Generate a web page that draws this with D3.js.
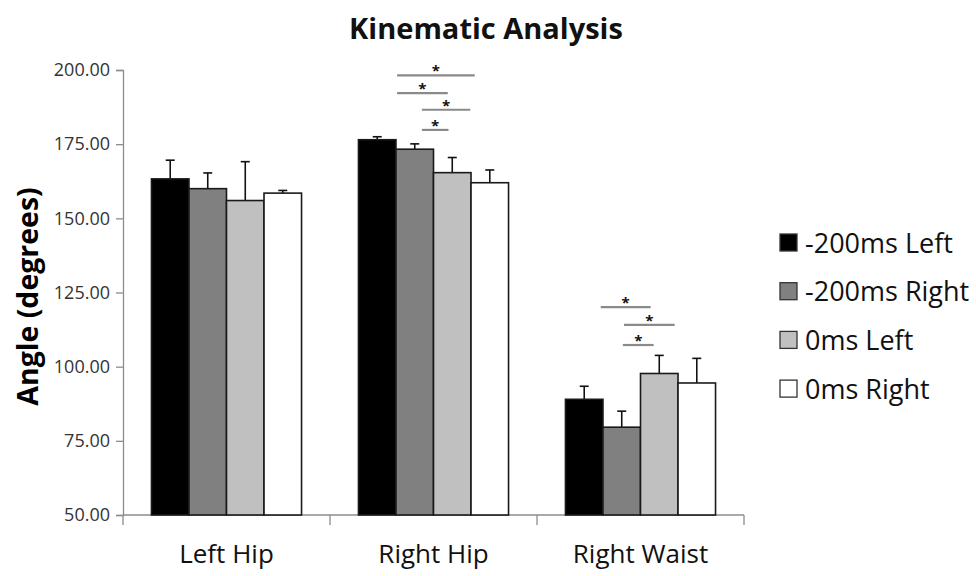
<!DOCTYPE html>
<html>
<head>
<meta charset="utf-8">
<script src="https://cdn.jsdelivr.net/npm/d3@7"></script>
<style>
  html, body { margin: 0; padding: 0; background: #fff; }
  svg { display: block; font-family: "Open Sans", "Noto Sans", sans-serif; }
</style>
</head>
<body>
<svg id="chart" width="976" height="576"></svg>
<script>
// Joint angles by condition (mean and upper standard deviation)
const categories = ["Left Hip", "Right Hip", "Right Waist"];
const seriesNames = ["-200ms Left", "-200ms Right", "0ms Left", "0ms Right"];
const seriesColors = ["#000000", "#808080", "#c0c0c0", "#ffffff"];

const meanMinus200Left  = [163.3, 176.5, 89.0];
const meanMinus200Right = [160.0, 173.3, 79.6];
const mean0Left         = [156.0, 165.4, 97.7];
const mean0Right        = [158.5, 162.0, 94.5];

const sdMinus200Left  = [6.3, 1.0, 4.4];
const sdMinus200Right = [5.3, 1.8, 5.4];
const sd0Left         = [13.1, 5.1, 6.1];
const sd0Right        = [0.9, 4.3, 8.3];

const yTicks = [50, 75, 100, 125, 150, 175, 200];

// Significance brackets: start/end in bar slots within the group, height in degrees
const sigCategory = ["Right Hip", "Right Hip", "Right Hip", "Right Hip", "Right Waist", "Right Waist", "Right Waist"];
const sigFrom     = [1.03, 1.03, 1.69, 1.69, 0.94, 1.56, 1.53];
const sigTo       = [3.10, 2.38, 2.98, 2.40, 2.27, 2.91, 2.35];
const sigLevel    = [198.2, 192.2, 186.6, 179.8, 120.1, 114.1, 107.3];

const means = [meanMinus200Left, meanMinus200Right, mean0Left, mean0Right];
const sds = [sdMinus200Left, sdMinus200Right, sd0Left, sd0Right];

const svg = d3.select("#chart");
const plot = { left: 123, right: 744, top: 70, bottom: 515 };

const x = d3.scaleBand().domain(categories).range([plot.left, plot.right]).padding(0);
const groupFrac = 0.725;
const groupW = x.bandwidth() * groupFrac;
const inner = d3.scaleBand().domain(seriesNames).range([0, groupW]).padding(0);
const groupStart = c => x(c) + (x.bandwidth() - groupW) / 2;
const y = d3.scaleLinear().domain([50, 200]).range([plot.bottom, plot.top]);

// Title
svg.append("text")
  .attr("x", 486).attr("y", 39)
  .attr("text-anchor", "middle")
  .attr("font-size", 29).attr("font-weight", 700).attr("fill", "#111")
  .text("Kinematic Analysis");

// Y axis
const yAxis = d3.axisLeft(y).tickValues(yTicks).tickFormat(d3.format(".2f")).tickSize(7).tickPadding(6);
const gy = svg.append("g").attr("transform", `translate(${plot.left},0)`).call(yAxis);
gy.select(".domain").attr("stroke", "#8c8c8c").attr("stroke-width", 1.3);
gy.selectAll(".tick line").attr("stroke", "#8c8c8c").attr("stroke-width", 1.3);
gy.selectAll(".tick text").attr("font-size", 18).attr("fill", "#333")
  .attr("font-family", "Open Sans, sans-serif");

// X axis with ticks at category boundaries
const gx = svg.append("g").attr("transform", `translate(0,${plot.bottom})`);
gx.append("line").attr("x1", plot.left).attr("x2", plot.right)
  .attr("stroke", "#8c8c8c").attr("stroke-width", 1.3);
const boundaries = categories.map(c => x(c)).concat([x(categories[categories.length - 1]) + x.bandwidth()]);
gx.selectAll("line.tk").data(boundaries).join("line").attr("class", "tk")
  .attr("x1", d => d).attr("x2", d => d).attr("y1", 0).attr("y2", 10)
  .attr("stroke", "#8c8c8c").attr("stroke-width", 1.3);
gx.selectAll("text").data(categories).join("text")
  .attr("x", d => x(d) + x.bandwidth() / 2).attr("y", 48)
  .attr("text-anchor", "middle").attr("font-size", 26).attr("fill", "#111")
  .text(d => d);

// Y axis title
svg.append("text")
  .attr("transform", `translate(38,${(plot.top + plot.bottom) / 2 + 4}) rotate(-90)`)
  .attr("text-anchor", "middle")
  .attr("font-size", 28.5).attr("font-weight", 700).attr("fill", "#000")
  .text("Angle (degrees)");

// Bars
const barData = [];
categories.forEach((c, ci) => {
  seriesNames.forEach((s, si) => {
    barData.push({ c, s, si, v: means[si][ci], sd: sds[si][ci] });
  });
});

const gBars = svg.append("g");
// Error bars (upper only), drawn under the bars
gBars.selectAll("line.err").data(barData).join("line").attr("class", "err")
  .attr("x1", d => groupStart(d.c) + inner(d.s) + inner.bandwidth() / 2)
  .attr("x2", d => groupStart(d.c) + inner(d.s) + inner.bandwidth() / 2)
  .attr("y1", d => y(d.v)).attr("y2", d => y(d.v + d.sd))
  .attr("stroke", "#111").attr("stroke-width", 1.6);
gBars.selectAll("line.cap").data(barData).join("line").attr("class", "cap")
  .attr("x1", d => groupStart(d.c) + inner(d.s) + inner.bandwidth() / 2 - 4.5)
  .attr("x2", d => groupStart(d.c) + inner(d.s) + inner.bandwidth() / 2 + 4.5)
  .attr("y1", d => y(d.v + d.sd)).attr("y2", d => y(d.v + d.sd))
  .attr("stroke", "#111").attr("stroke-width", 1.6);
gBars.selectAll("rect").data(barData).join("rect")
  .attr("x", d => groupStart(d.c) + inner(d.s))
  .attr("y", d => y(d.v))
  .attr("width", inner.bandwidth())
  .attr("height", d => y(50) - y(d.v))
  .attr("fill", d => seriesColors[d.si])
  .attr("stroke", "#1a1a1a").attr("stroke-width", 1.6);

// Significance brackets
const sigData = sigCategory.map((c, i) => ({ c, from: sigFrom[i], to: sigTo[i], lvl: sigLevel[i] }));
const gSig = svg.append("g");
gSig.selectAll("line").data(sigData).join("line")
  .attr("x1", d => groupStart(d.c) + d.from * inner.step())
  .attr("x2", d => groupStart(d.c) + d.to * inner.step())
  .attr("y1", d => y(d.lvl)).attr("y2", d => y(d.lvl))
  .attr("stroke", "#8a8a8a").attr("stroke-width", 2.2);
gSig.selectAll("text").data(sigData).join("text")
  .attr("x", d => groupStart(d.c) + (d.from + d.to) / 2 * inner.step())
  .attr("y", d => y(d.lvl) + 1)
  .attr("text-anchor", "middle").attr("font-size", 15).attr("font-weight", 700).attr("fill", "#111")
  .text("*");

// Legend
const legend = svg.append("g").attr("transform", "translate(780,234)");
const rowH = 48.7;
const lg = legend.selectAll("g").data(seriesNames).join("g")
  .attr("transform", (d, i) => `translate(0,${i * rowH})`);
lg.append("rect").attr("width", 17).attr("height", 17)
  .attr("fill", (d, i) => seriesColors[i]).attr("stroke", "#333").attr("stroke-width", 1.3);
lg.append("text").attr("x", 25).attr("y", 18.5)
  .attr("font-size", 27).attr("fill", "#111")
  .text(d => d);
</script>
</body>
</html>
